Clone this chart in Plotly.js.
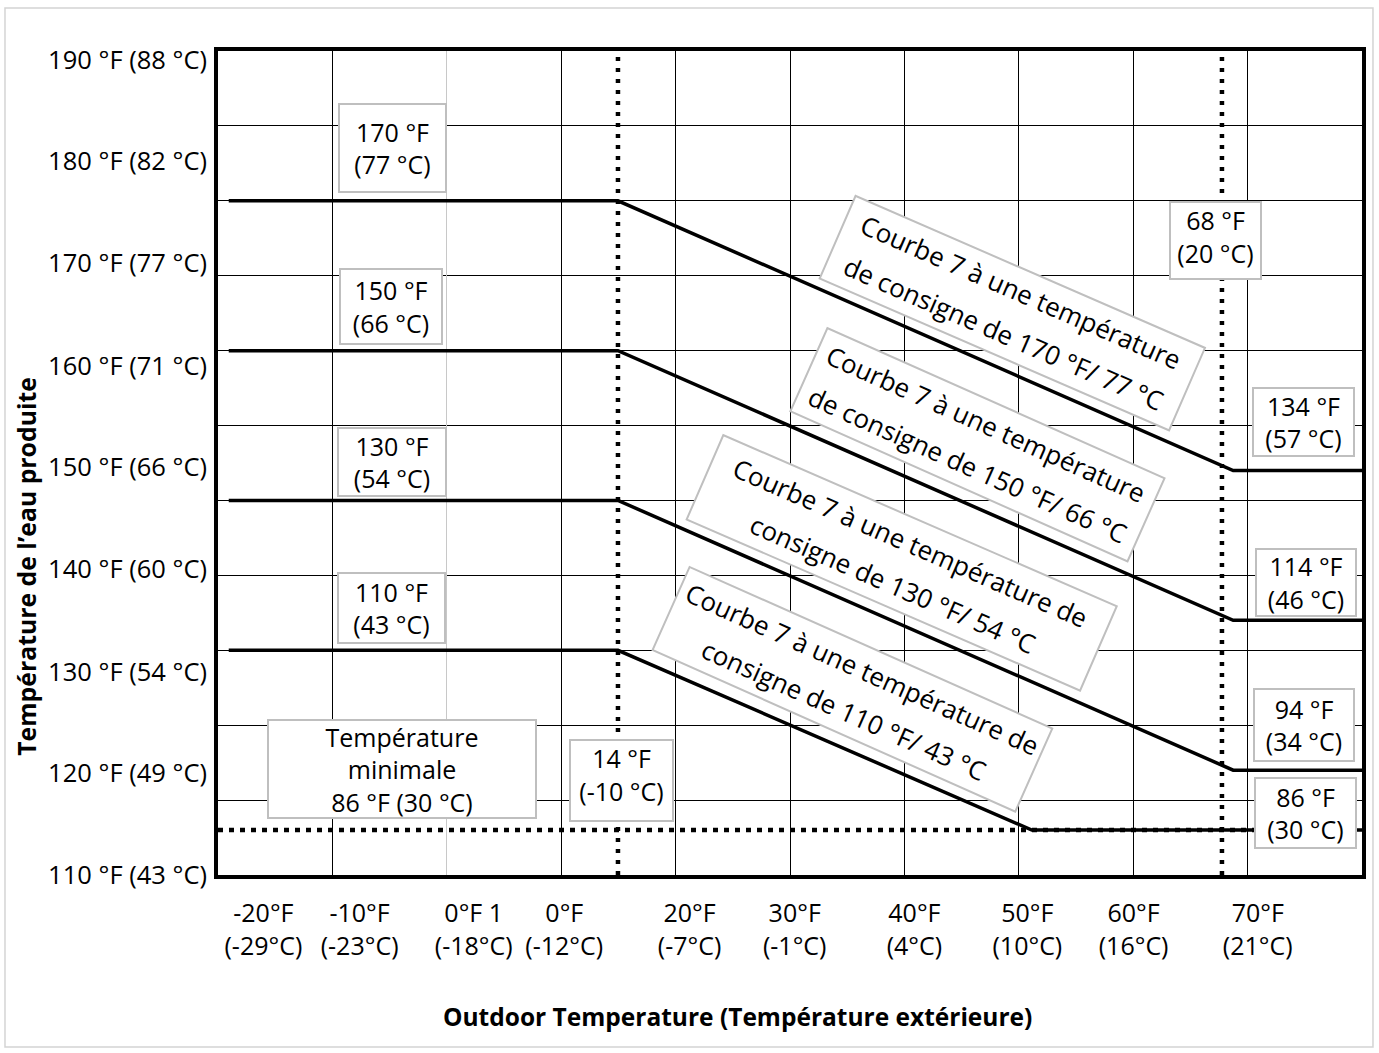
<!DOCTYPE html>
<html>
<head>
<meta charset="utf-8">
<script src="https://cdn.plot.ly/plotly-3.0.1.min.js"></script>
<style>
html,body{margin:0;padding:0;background:#fff;}
#chart{width:1379px;height:1053px;}
</style>
</head>
<body>
<div id="chart"></div>
<script>
// ---- tick labels ----
const xTickPos = [-17.7, -9.1, 1.1, 9.2, 20.4, 29.8, 40.5, 50.6, 60.1, 71.2];
const xTickText = ['-20°F<br>(-29°C)', '-10°F<br>(-23°C)', '0°F 1<br>(-18°C)', '0°F<br>(-12°C)', '20°F<br>(-7°C)',
                   '30°F<br>(-1°C)', '40°F<br>(4°C)', '50°F<br>(10°C)', '60°F<br>(16°C)', '70°F<br>(21°C)'];
const yTickPos = [80, 93.6, 107.1, 120.8, 134.4, 147.9, 161.7, 175.3, 188.8];
const yTickText = ['110 °F (43 °C)', '120 °F (49 °C)', '130 °F (54 °C)', '140 °F (60 °C)', '150 °F (66 °C)',
                   '160 °F (71 °C)', '170 °F (77 °C)', '180 °F (82 °C)', '190 °F (88 °C)'];

// ---- curves (outdoor °F -> supply water °F) ----
const curveX = [-20.8, 14, 69, 80.52];
const curve170 = [170, 170, 134, 134];
const curve150 = [150, 150, 114, 114];
const curve130 = [130, 130, 94, 94];
const curve110X = [-20.8, 14, 51, 80.52];
const curve110 = [110, 110, 86, 86];

// ---- reference lines ----
const minX = [-21.76, 80.52];
const minY = [86, 86];
const cutoffLowX = [14, 14];
const cutoffHighX = [68, 68];
const fullY = [80, 190];

// ---- annotation texts ----
const boxTexts = ['170 °F<br>(77 °C)', '150 °F<br>(66 °C)', '130 °F<br>(54 °C)', '110 °F<br>(43 °C)',
                  'Température<br>minimale<br>86 °F (30 °C)', '14 °F<br>(-10 °C)', '68 °F<br>(20 °C)',
                  '134 °F<br>(57 °C)', '114 °F<br>(46 °C)', '94 °F<br>(34 °C)', '86 °F<br>(30 °C)'];
const curveLines = [
  ['Courbe 7 à une température', 'de consigne de 170 °F/ 77 °C'],
  ['Courbe 7 à une température', 'de consigne de 150 °F/ 66 °C'],
  ['Courbe 7 à une température de', 'consigne de 130 °F/ 54 °C'],
  ['Courbe 7 à une température de', 'consigne de 110 °F/ 43 °C']
];

const solid = {color: '#000', width: 3.5};
function curve(x, y) {
  return {x: x, y: y, type: 'scatter', mode: 'lines', line: solid, hoverinfo: 'skip', showlegend: false};
}
function dotted(x, y, dash) {
  return {x: x, y: y, type: 'scatter', mode: 'lines', line: {color: '#000', width: 4.5, dash: dash},
          hoverinfo: 'skip', showlegend: false};
}

const traces = [
  {x: [], y: [], xaxis: 'x2', yaxis: 'y', type: 'scatter', showlegend: false},
  {x: [], y: [], xaxis: 'x3', yaxis: 'y', type: 'scatter', showlegend: false},
  {x: [], y: [], xaxis: 'x', yaxis: 'y2', type: 'scatter', showlegend: false},
  dotted(cutoffLowX, fullY, '4px,7px'),
  dotted(cutoffHighX, fullY, '4px,7px'),
  dotted(minX, minY, '5px,6px'),
  curve(curveX, curve170),
  curve(curveX, curve150),
  curve(curveX, curve130),
  curve(curve110X, curve110)
];

const F = 'Open Sans, sans-serif';
const fs = 25;

// box placement (data coords), size (px), vertical alignment
const boxGeom = [
  [-6.2, 177.07, 109, 90, 'middle'],
  [-6.3, 155.93, 104, 77, 'middle'],
  [-6.2, 135.2, 110, 70, 'middle'],
  [-6.25, 115.6, 109, 72, 'middle'],
  [-5.31, 94.13, 270, 100, 'middle'],
  [14.31, 92.6, 105, 83, 'top'],
  [67.42, 164.73, 93, 79, 'top'],
  [75.29, 140.53, 103, 70, 'middle'],
  [75.51, 119.0, 102, 69, 'middle'],
  [75.33, 100.0, 102, 74, 'middle'],
  [75.47, 88.27, 103, 72, 'middle']
];
// rotated boxes: center (data), size (px), angle (deg), line spacing (px)
const curveGeom = [
  [49.23, 155.07, 383, 92, 23.5, 45],
  [46.1, 137.47, 371, 93, 24, 45],
  [39.39, 121.6, 431, 94, 23.5, 45],
  [35.01, 104.8, 399, 93, 24, 45]
];

const annotations = [];
boxTexts.forEach(function (t, i) {
  const g = boxGeom[i];
  annotations.push({
    text: t, x: g[0], y: g[1], xref: 'x', yref: 'y', showarrow: false,
    xanchor: 'center', yanchor: 'middle', align: 'center', valign: g[4],
    width: g[2] - 4, height: g[3] - 4,
    bgcolor: '#fff', bordercolor: '#bfbfbf', borderwidth: 2, borderpad: 0,
    font: {family: F, size: fs, color: '#000'}
  });
});
curveLines.forEach(function (lines, i) {
  const g = curveGeom[i];
  const a = g[4] * Math.PI / 180;
  annotations.push({
    text: '\u00a0', x: g[0], y: g[1], xref: 'x', yref: 'y', showarrow: false,
    xanchor: 'center', yanchor: 'middle', textangle: g[4],
    width: g[2] - 4, height: g[3] - 4,
    bgcolor: '#fff', bordercolor: '#bfbfbf', borderwidth: 2, borderpad: 0,
    font: {family: F, size: 26, color: '#000'}
  });
  const half = g[5] / 2;
  [-1, 1].forEach(function (s, k) {
    annotations.push({
      text: lines[k], x: g[0], y: g[1], xref: 'x', yref: 'y', showarrow: false,
      xanchor: 'center', yanchor: 'middle', textangle: g[4],
      xshift: -s * half * Math.sin(a), yshift: -s * half * Math.cos(a),
      font: {family: F, size: 26, color: '#000'}
    });
  });
});
annotations.push({
  text: '<b>Température de l’eau produite</b>', xref: 'paper', yref: 'paper',
  x: -0.168, y: 0.375, xanchor: 'center', yanchor: 'middle', textangle: -90, showarrow: false,
  font: {family: F, size: 24.8, color: '#000'}
});
annotations.push({
  text: '<b>Outdoor Temperature (Température extérieure)</b>', xref: 'paper', yref: 'paper',
  x: 0.4537, y: -0.1723, xanchor: 'center', yanchor: 'middle', showarrow: false,
  font: {family: F, size: 24.5, color: '#000'}
});

const layout = {
  width: 1379, height: 1053,
  margin: {l: 218, r: 17, t: 51, b: 178, pad: 0},
  paper_bgcolor: '#fff', plot_bgcolor: '#fff',
  font: {family: F, size: fs, color: '#000'},
  showlegend: false,
  xaxis: {
    range: [-21.76, 80.52], tickmode: 'array', tickvals: xTickPos, ticktext: xTickText,
    showgrid: false, zeroline: false, showline: true, mirror: true, linecolor: '#000', linewidth: 4,
    ticks: '', ticklabelstandoff: 13, tickfont: {family: F, size: fs, color: '#000'}, fixedrange: true
  },
  xaxis2: {
    overlaying: 'x', anchor: 'y', range: [0, 10], tickmode: 'array', tickvals: [1, 3, 4, 5, 6, 7, 8, 9],
    showgrid: true, gridcolor: '#000', gridwidth: 1, showticklabels: false, ticks: '',
    zeroline: false, showline: false
  },
  xaxis3: {
    overlaying: 'x', anchor: 'y', range: [0, 10], tickmode: 'array', tickvals: [2],
    showgrid: true, gridcolor: '#c8c8c8', gridwidth: 1, showticklabels: false, ticks: '',
    zeroline: false, showline: false
  },
  yaxis: {
    range: [80, 190], tick0: 80, dtick: 10, showgrid: true, gridcolor: '#000', gridwidth: 1,
    showticklabels: false, zeroline: false, showline: true, mirror: true, linecolor: '#000', linewidth: 4,
    ticks: ''
  },
  yaxis2: {
    overlaying: 'y', anchor: 'x', side: 'left', range: [80, 190], tickmode: 'array',
    tickvals: yTickPos, ticktext: yTickText, showgrid: false, zeroline: false, showline: false,
    ticks: '', ticklabelstandoff: 10, tickfont: {family: F, size: 25.5, color: '#000'}
  },
  shapes: [{
    type: 'rect', xref: 'paper', yref: 'paper', x0: -0.1862, x1: 1.0096, y0: -0.2087, y1: 1.0522,
    line: {color: '#d4d4d4', width: 1.5}, layer: 'below'
  }],
  annotations: annotations
};

Plotly.newPlot('chart', traces, layout, {displayModeBar: false, staticPlot: true});
</script>
</body>
</html>
